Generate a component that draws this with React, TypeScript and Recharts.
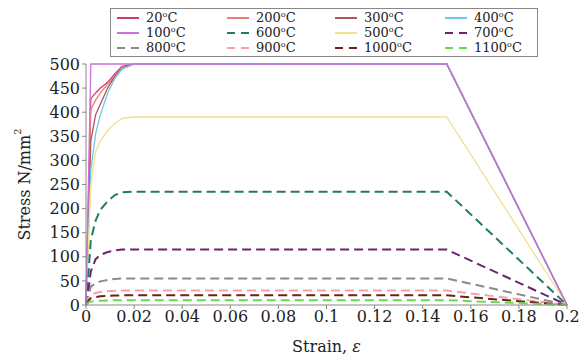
import React from "react";
import { LineChart, Line, XAxis, YAxis, Label } from "recharts";

// strain sample points shared by every curve
const strain = [0, 0.001, 0.002, 0.004, 0.006, 0.009, 0.012, 0.015, 0.02, 0.15, 0.2];

// stress (N/mm2) per temperature
const s20 = [0, 215, 428, 440, 450, 462, 480, 495, 500, 500, 0];
const s100 = [0, 250, 500, 500, 500, 500, 500, 500, 500, 500, 0];
const s200 = [0, 200, 405, 425, 440, 458, 475, 490, 500, 500, 0];
const s300 = [0, 170, 340, 395, 417, 450, 475, 491, 500, 500, 0];
const s400 = [0, 140, 280, 355, 395, 440, 470, 490, 500, 500, 0];
const s500 = [0, 130, 250, 318, 340, 362, 377, 387, 390, 390, 0];
const s600 = [0, 65, 135, 175, 198, 215, 228, 234, 235, 235, 0];
const s700 = [0, 30, 70, 95, 104, 110, 113, 115, 115, 115, 0];
const s800 = [0, 18, 38, 45, 49, 52, 54, 55, 55, 55, 0];
const s900 = [0, 14, 21, 25, 27, 28.5, 29.5, 30, 30, 30, 0];
const s1000 = [0, 9, 14, 16.5, 18, 19, 19.5, 20, 20, 20, 0];
const s1100 = [0, 5, 7, 8.3, 9, 9.5, 9.8, 10, 10, 10, 0];

const xTicks = [0, 0.02, 0.04, 0.06, 0.08, 0.1, 0.12, 0.14, 0.16, 0.18, 0.2];
const yTicks = [0, 50, 100, 150, 200, 250, 300, 350, 400, 450, 500];

const series = [
  { key: "t20", temp: "20", vals: s20, color: "#d63a66", dash: false },
  { key: "t200", temp: "200", vals: s200, color: "#f07a78", dash: false },
  { key: "t300", temp: "300", vals: s300, color: "#b0565a", dash: false },
  { key: "t400", temp: "400", vals: s400, color: "#6cc8e8", dash: false },
  { key: "t500", temp: "500", vals: s500, color: "#f2e08a", dash: false },
  { key: "t600", temp: "600", vals: s600, color: "#227a6c", dash: true },
  { key: "t700", temp: "700", vals: s700, color: "#6c2470", dash: true },
  { key: "t800", temp: "800", vals: s800, color: "#8a8a8a", dash: true },
  { key: "t900", temp: "900", vals: s900, color: "#f2a4a4", dash: true },
  { key: "t1000", temp: "1000", vals: s1000, color: "#6e2020", dash: true },
  { key: "t1100", temp: "1100", vals: s1100, color: "#66dd44", dash: true },
  { key: "t100", temp: "100", vals: s100, color: "#cc70dc", dash: false },
];

// legend grid as in the figure (rows of four)
const legendRows = [
  ["t20", "t200", "t300", "t400"],
  ["t100", "t600", "t500", "t700"],
  ["t800", "t900", "t1000", "t1100"],
];

const data = strain.map((x, i) => {
  const row: Record<string, number> = { strain: x };
  series.forEach((s) => (row[s.key] = s.vals[i]));
  return row;
});

const font = "DejaVu Serif";
const colLeft = [5, 115, 223, 333];

const YLabel = (props: any) => {
  const { viewBox } = props;
  const cx = 25;
  const cy = viewBox.y + viewBox.height / 2;
  return (
    <text
      x={cx}
      y={cy}
      transform={`rotate(-90 ${cx} ${cy})`}
      textAnchor="middle"
      dominantBaseline="middle"
      fontFamily={font}
      fontSize={16}
      fill="#222"
    >
      Stress N/mm
      <tspan dy={-7} fontSize={10}>2</tspan>
    </text>
  );
};

const XLabel = (props: any) => {
  const { viewBox } = props;
  return (
    <text
      x={viewBox.x + viewBox.width / 2}
      y={352}
      textAnchor="middle"
      fontFamily={font}
      fontSize={16}
      fill="#222"
    >
      Strain, <tspan fontStyle="italic">ε</tspan>
    </text>
  );
};

const App = () => {
  return (
    <div style={{ position: "relative", width: 583, height: 360 }}>
      <style>{"body{margin:0}"}</style>
      <LineChart
        width={583}
        height={360}
        data={data}
        margin={{ top: 64, right: 16, bottom: 15, left: 0 }}
      >
        <XAxis
          dataKey="strain"
          type="number"
          domain={[0, 0.2]}
          ticks={xTicks}
          tickFormatter={(v: number) => String(v)}
          height={40}
          stroke="#888"
          tickSize={4}
          tick={{ fill: "#222", fontFamily: font, fontSize: 16 }}
        >
          <Label content={<XLabel />} />
        </XAxis>
        <YAxis
          type="number"
          domain={[0, 500]}
          ticks={yTicks}
          width={86}
          stroke="#888"
          tickSize={4}
          interval={0}
          tick={{ fill: "#222", fontFamily: font, fontSize: 16 }}
        >
          <Label content={<YLabel />} />
        </YAxis>
        {series.map((s) => (
          <Line
            key={s.key}
            dataKey={s.key}
            type="linear"
            stroke={s.color}
            strokeWidth={s.dash ? 2 : 1.3}
            strokeDasharray={s.dash ? "9 5" : undefined}
            dot={false}
            activeDot={false}
            isAnimationActive={false}
          />
        ))}
      </LineChart>
      <div
        style={{
          position: "absolute",
          left: 110,
          top: 8,
          width: 426,
          height: 47,
          border: "1.5px solid #888",
          background: "#fff",
          fontFamily: font,
          fontSize: 13,
          color: "#222",
        }}
      >
        {legendRows.map((row, r) =>
          row.map((k, c) => {
            const s = series.find((d) => d.key === k)!;
            return (
              <div
                key={k}
                style={{
                  position: "absolute",
                  left: colLeft[c],
                  top: 1 + r * 15,
                  height: 15,
                  lineHeight: "15px",
                  display: "flex",
                  alignItems: "center",
                  whiteSpace: "nowrap",
                }}
              >
                <svg width={24} height={10} style={{ marginRight: 6 }}>
                  <line
                    x1={1}
                    x2={23}
                    y1={5}
                    y2={5}
                    stroke={s.color}
                    strokeWidth={2}
                    strokeDasharray={s.dash ? "8 6" : undefined}
                  />
                </svg>
                <span>
                  {s.temp}
                  <sup style={{ fontSize: 8, verticalAlign: 5, lineHeight: 0 }}>o</sup>C
                </span>
              </div>
            );
          })
        )}
      </div>
    </div>
  );
};

export default App;
